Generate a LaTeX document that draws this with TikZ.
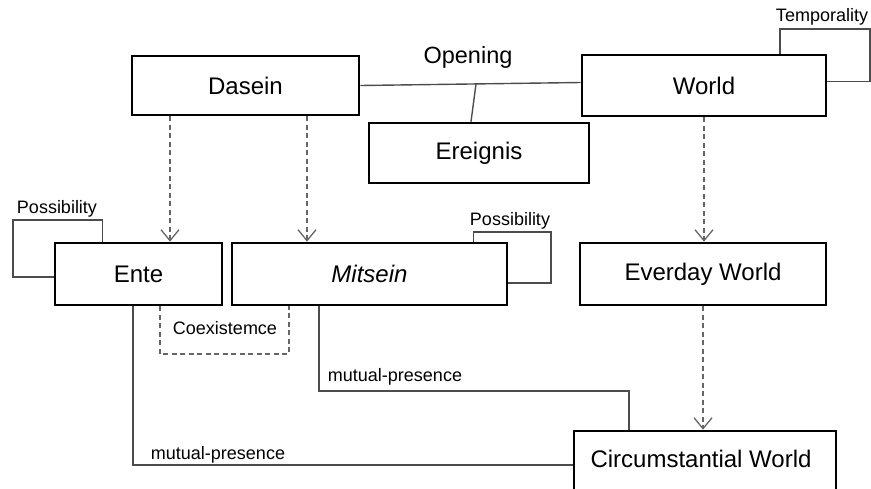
\documentclass[tikz,border=0pt]{standalone}
\usepackage{fontspec}
\setmainfont{Liberation Sans}
\usetikzlibrary{arrows.meta,calc}
\begin{document}
\begin{tikzpicture}[x=1pt,y=-1pt,
  box/.style={draw=black,line width=2.6pt,fill=white,inner sep=0pt,font=\fontsize{24}{28}\selectfont},
  conn/.style={draw=black!70,line width=1.4pt},
  dconn/.style={draw=black!60,line width=1.5pt,dash pattern=on 5pt off 3.5pt},
  arr/.style={-{Straight Barb[length=11pt,width=18pt,line width=1.3pt]}},
  lbl/.style={font=\fontsize{18}{21}\selectfont,inner sep=0pt},
  biglbl/.style={font=\fontsize{23.5}{28}\selectfont,inner sep=0pt}]
\useasboundingbox (0,0) rectangle (871,488);
% boxes
\node[box,minimum width=227pt,minimum height=59pt] (dasein) at (245.5,85.5) {Dasein};
\node[box,minimum width=244pt,minimum height=61pt] (world) at (704,85.5) {World};
\node[box,minimum width=220pt,minimum height=60pt] (ereignis) at (479,153) {Ereignis};
\node[box,minimum width=167pt,minimum height=62pt] (ente) at (138.5,274) {Ente};
\node[box,minimum width=275pt,minimum height=62pt] (mitsein) at (369.5,274) {\itshape Mitsein};
\node[box,minimum width=246pt,minimum height=62pt] (everday) at (703,274) {Everday World};
\node[box,minimum width=262pt,minimum height=70pt] (circ) at (705,466) {};
\node[biglbl,font=\fontsize{24}{28}\selectfont] (circtext) at (701,459) {Circumstantial World};
% opening
\coordinate (op) at (476,84);
\draw[conn] (dasein.east) -- ([yshift=3pt]world.west);
\draw[conn] (op) -- ([xshift=-8pt]ereignis.north);
\node[biglbl] (opening) at (468,57) {Opening};
% temporality loop
\coordinate (tA) at (870,29);
\draw[conn] ([xshift=76pt]world.north) |- (tA) |- ([yshift=4pt]world.east);
\node[lbl] (temp) at (822,17) {Temporality};
% possibility loops
\coordinate (pA) at (13,220);
\draw[conn] ([xshift=-36pt]ente.north) |- (pA) |- ([yshift=-3pt]ente.west);
\node[lbl] (poss1) at (57,209) {Possibility};
\coordinate (pB) at (551,232);
\draw[conn] ([xshift=104pt]mitsein.north) |- (pB) |- ([yshift=-9pt]mitsein.east);
\node[lbl] (poss2) at (510,221) {Possibility};
% dashed arrows
\draw[dconn,arr] (dasein.south -| ente.north) ++(31.5pt,0) coordinate (d1) -- (d1 |- ente.north);
\draw[dconn,arr] ([xshift=61.5pt]dasein.south) -- ([xshift=61.5pt]dasein.south |- mitsein.north);
\draw[dconn,arr] (world.south) -- (world.south |- everday.north);
\draw[dconn,arr] (everday.south) -- (everday.south |- circ.north);
% coexistence
\coordinate (cA) at (160,354);
\coordinate (cB) at (289,354);
\draw[dconn] (cA |- ente.south) -- (cA) -- (cB) -- (cB |- mitsein.south);
\node[lbl] (coex) at (225,328) {Coexistemce};
% mutual presence
\coordinate (mA) at (319,391);
\coordinate (mB) at (629,391);
\draw[conn] (mA |- mitsein.south) -- (mA) -- (mB) -- (mB |- circ.north);
\node[lbl] (mp1) at (395,377) {mutual-presence};
\coordinate (eA) at (133,465);
\draw[conn] (eA |- ente.south) -- (eA) -- (eA -| circ.west);
\node[lbl] (mp2) at (218,455) {mutual-presence};
\end{tikzpicture}
\end{document}
